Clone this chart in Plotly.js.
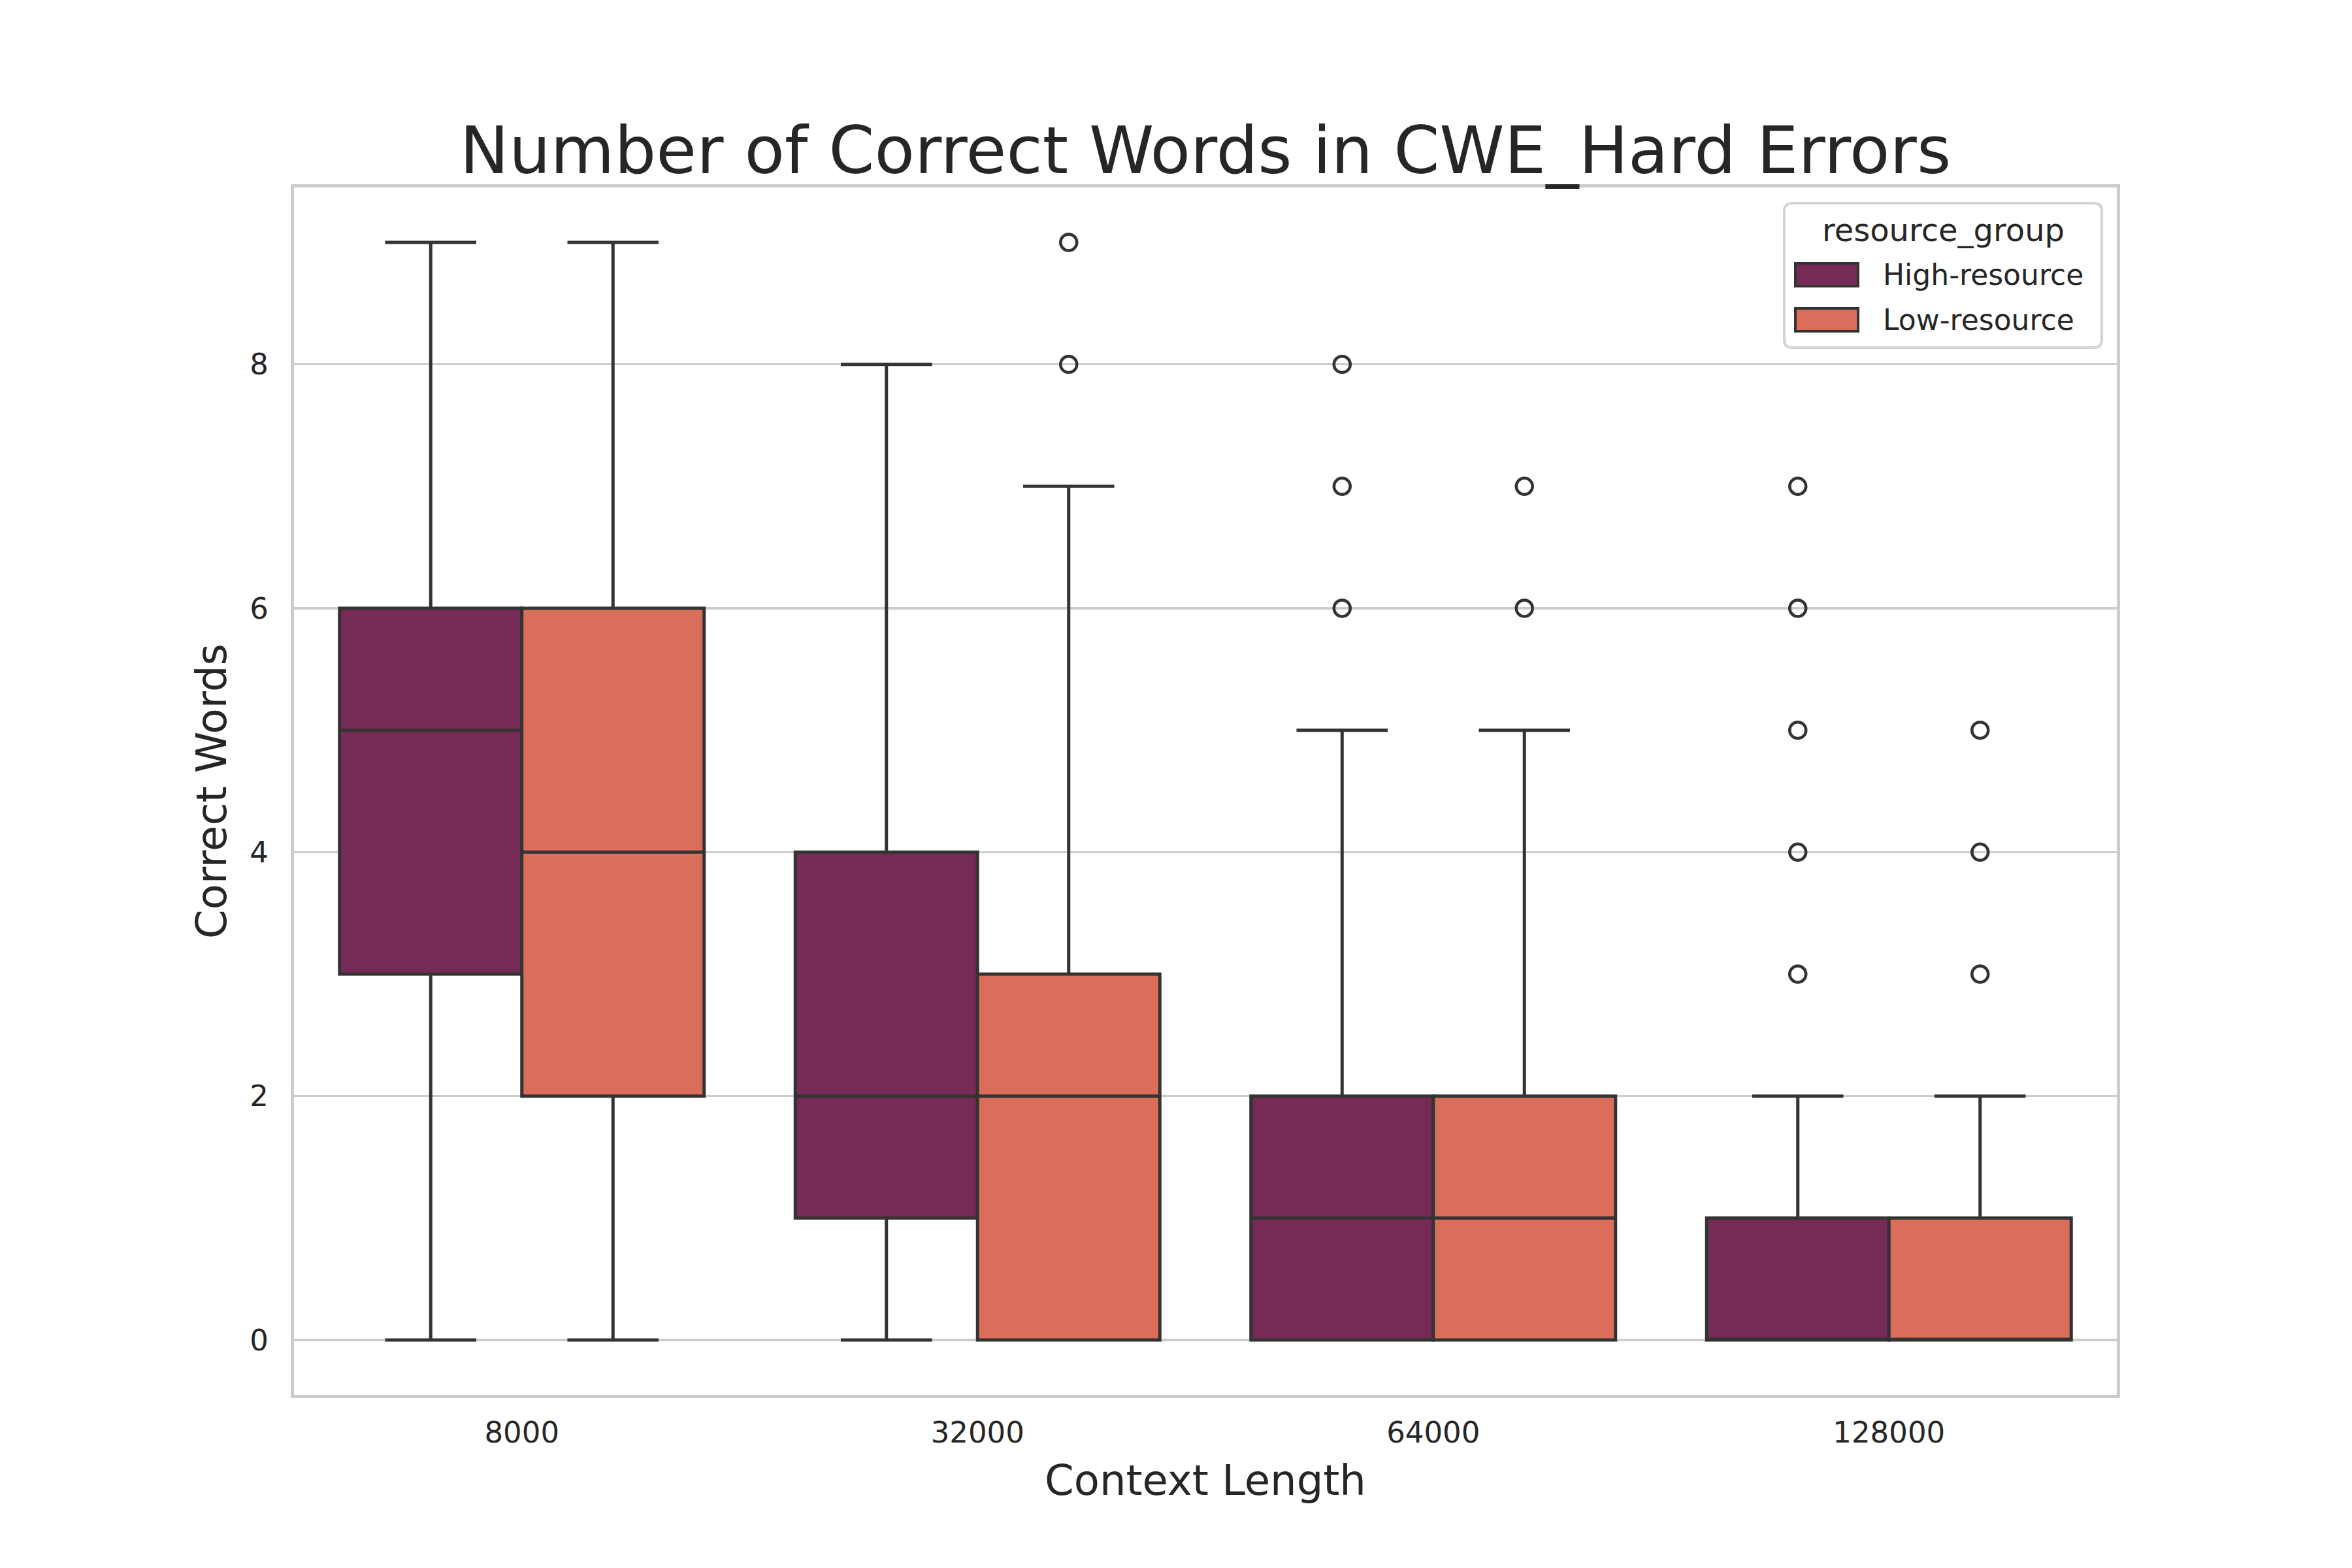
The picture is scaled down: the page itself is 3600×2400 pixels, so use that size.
<!DOCTYPE html>
<html>
<head>
<meta charset="utf-8">
<script src="https://cdn.plot.ly/plotly-3.0.1.min.js"></script>
<style>
  html, body { margin: 0; padding: 0; background: #ffffff; }
  #chart { width: 3600px; height: 2400px; }
</style>
</head>
<body>
<div id="chart"></div>
<script>
// ---- Data ----
const categories = ['8000', '32000', '64000', '128000'];
const groups = ['High-resource', 'Low-resource'];

const highLower  = [0, 0, 0, 0];
const highQ1     = [3, 1, 0, 0];
const highMedian = [5, 2, 1, 0];
const highQ3     = [6, 4, 2, 1];
const highUpper  = [9, 8, 5, 2];
const highOutliers = [[], [], [6, 7, 8], [3, 4, 5, 6, 7]];

const lowLower  = [0, 0, 0, 0];
const lowQ1     = [2, 0, 0, 0];
const lowMedian = [4, 2, 1, 0];
const lowQ3     = [6, 3, 2, 1];
const lowUpper  = [9, 7, 5, 2];
const lowOutliers = [[], [8, 9], [6, 7], [3, 4, 5]];

const yTicks = [0, 2, 4, 6, 8];

// ---- Styling ----
const colors = ['#762a56', '#da6e5a'];
const edge = '#333333';
const textColor = '#262626';
const font = 'DejaVu Sans, sans-serif';
const offset = 0.2, boxW = 0.4;

const idx = categories.map((c, i) => i);

function boxTrace(name, color, sign, lower, q1, med, q3, upper) {
  return {
    type: 'box', name: name,
    x: idx.map(i => i + sign * offset),
    lowerfence: lower, q1: q1, median: med, q3: q3, upperfence: upper,
    width: boxW, whiskerwidth: 0.5,
    fillcolor: color,
    line: { color: edge, width: 5 },
    showlegend: false, hoverinfo: 'y'
  };
}
function outlierTrace(name, sign, outs) {
  const xs = [], ys = [];
  outs.forEach((arr, i) => arr.forEach(v => { xs.push(i + sign * offset); ys.push(v); }));
  return {
    type: 'scatter', mode: 'markers', name: name + ' outliers',
    x: xs, y: ys,
    marker: { symbol: 'circle-open', size: 25, color: edge, line: { width: 4.5, color: edge } },
    showlegend: false, hoverinfo: 'y'
  };
}

const data = [
  boxTrace(groups[0], colors[0], -1, highLower, highQ1, highMedian, highQ3, highUpper),
  boxTrace(groups[1], colors[1], +1, lowLower, lowQ1, lowMedian, lowQ3, lowUpper),
  outlierTrace(groups[0], -1, highOutliers),
  outlierTrace(groups[1], +1, lowOutliers)
];

// ---- Plot area in pixels ----
const L = 450, R = 3240, T = 287, B = 2135;
const W = 3600, H = 2400;
const px = x => (x - L) / (R - L);
const py = y => (B - y) / (B - T);

// Custom legend (matplotlib-like)
const lg = { x0: 2731, x1: 3217, y0: 311, y1: 532, r: 12 };
function roundRectPath(b) {
  const rx = b.r / (R - L), ry = b.r / (B - T);
  const X0 = px(b.x0), X1 = px(b.x1), Y0 = py(b.y1), Y1 = py(b.y0);
  return `M ${X0 + rx},${Y0} L ${X1 - rx},${Y0} Q ${X1},${Y0} ${X1},${Y0 + ry} ` +
         `L ${X1},${Y1 - ry} Q ${X1},${Y1} ${X1 - rx},${Y1} L ${X0 + rx},${Y1} ` +
         `Q ${X0},${Y1} ${X0},${Y1 - ry} L ${X0},${Y0 + ry} Q ${X0},${Y0} ${X0 + rx},${Y0} Z`;
}
const shapes = [
  { type: 'path', xref: 'paper', yref: 'paper', path: roundRectPath(lg),
    fillcolor: 'rgba(255,255,255,0.85)', line: { color: '#d4d4d4', width: 4 } }
];
const swatchRows = [ { y0: 403, y1: 438 }, { y0: 472, y1: 507 } ];
const annotations = [
  { xref: 'paper', yref: 'paper', x: px((lg.x0 + lg.x1) / 2), y: py(352),
    xanchor: 'center', yanchor: 'middle', showarrow: false,
    text: 'resource_group', font: { family: font, size: 48, color: textColor } }
];
groups.forEach((g, k) => {
  const r = swatchRows[k];
  shapes.push({ type: 'rect', xref: 'paper', yref: 'paper',
    x0: px(2748), x1: px(2844), y0: py(r.y1), y1: py(r.y0),
    fillcolor: colors[k], line: { color: edge, width: 4 } });
  annotations.push({ xref: 'paper', yref: 'paper', x: px(2880), y: py((r.y0 + r.y1) / 2),
    xanchor: 'left', yanchor: 'middle', showarrow: false,
    text: g, font: { family: font, size: 44, color: textColor } });
});

const layout = {
  width: W, height: H,
  paper_bgcolor: '#ffffff', plot_bgcolor: '#ffffff',
  margin: { l: L, r: W - R, t: T, b: H - B, pad: 0 },
  font: { family: font, color: textColor, size: 44 },
  title: { text: 'Number of Correct Words in CWE_Hard Errors',
    font: { family: font, size: 100.5, color: textColor },
    x: 0.5, xref: 'paper', xanchor: 'center', y: 1 - 230 / H, yref: 'container', yanchor: 'middle' },
  xaxis: {
    range: [-0.5, 3.5], tickvals: idx, ticktext: categories,
    showgrid: false, zeroline: false,
    showline: true, mirror: true, linecolor: '#cccccc', linewidth: 5,
    ticks: '', ticklabelstandoff: 14,
    tickfont: { family: font, size: 45, color: textColor },
    title: { text: 'Context Length', font: { family: font, size: 64, color: textColor }, standoff: 27 },
    automargin: false
  },
  yaxis: {
    range: [-0.45, 9.45], tickvals: yTicks, ticktext: yTicks.map(String),
    showgrid: true, gridcolor: '#cccccc', gridwidth: 3.5, zeroline: false,
    showline: true, mirror: true, linecolor: '#cccccc', linewidth: 5,
    ticks: '', ticklabelstandoff: 25,
    tickfont: { family: font, size: 45, color: textColor },
    title: { text: 'Correct Words', font: { family: font, size: 64, color: textColor }, standoff: 16 },
    automargin: false
  },
  shapes: shapes,
  annotations: annotations,
  showlegend: false
};

Plotly.newPlot('chart', data, layout, { staticPlot: true });
</script>
</body>
</html>
